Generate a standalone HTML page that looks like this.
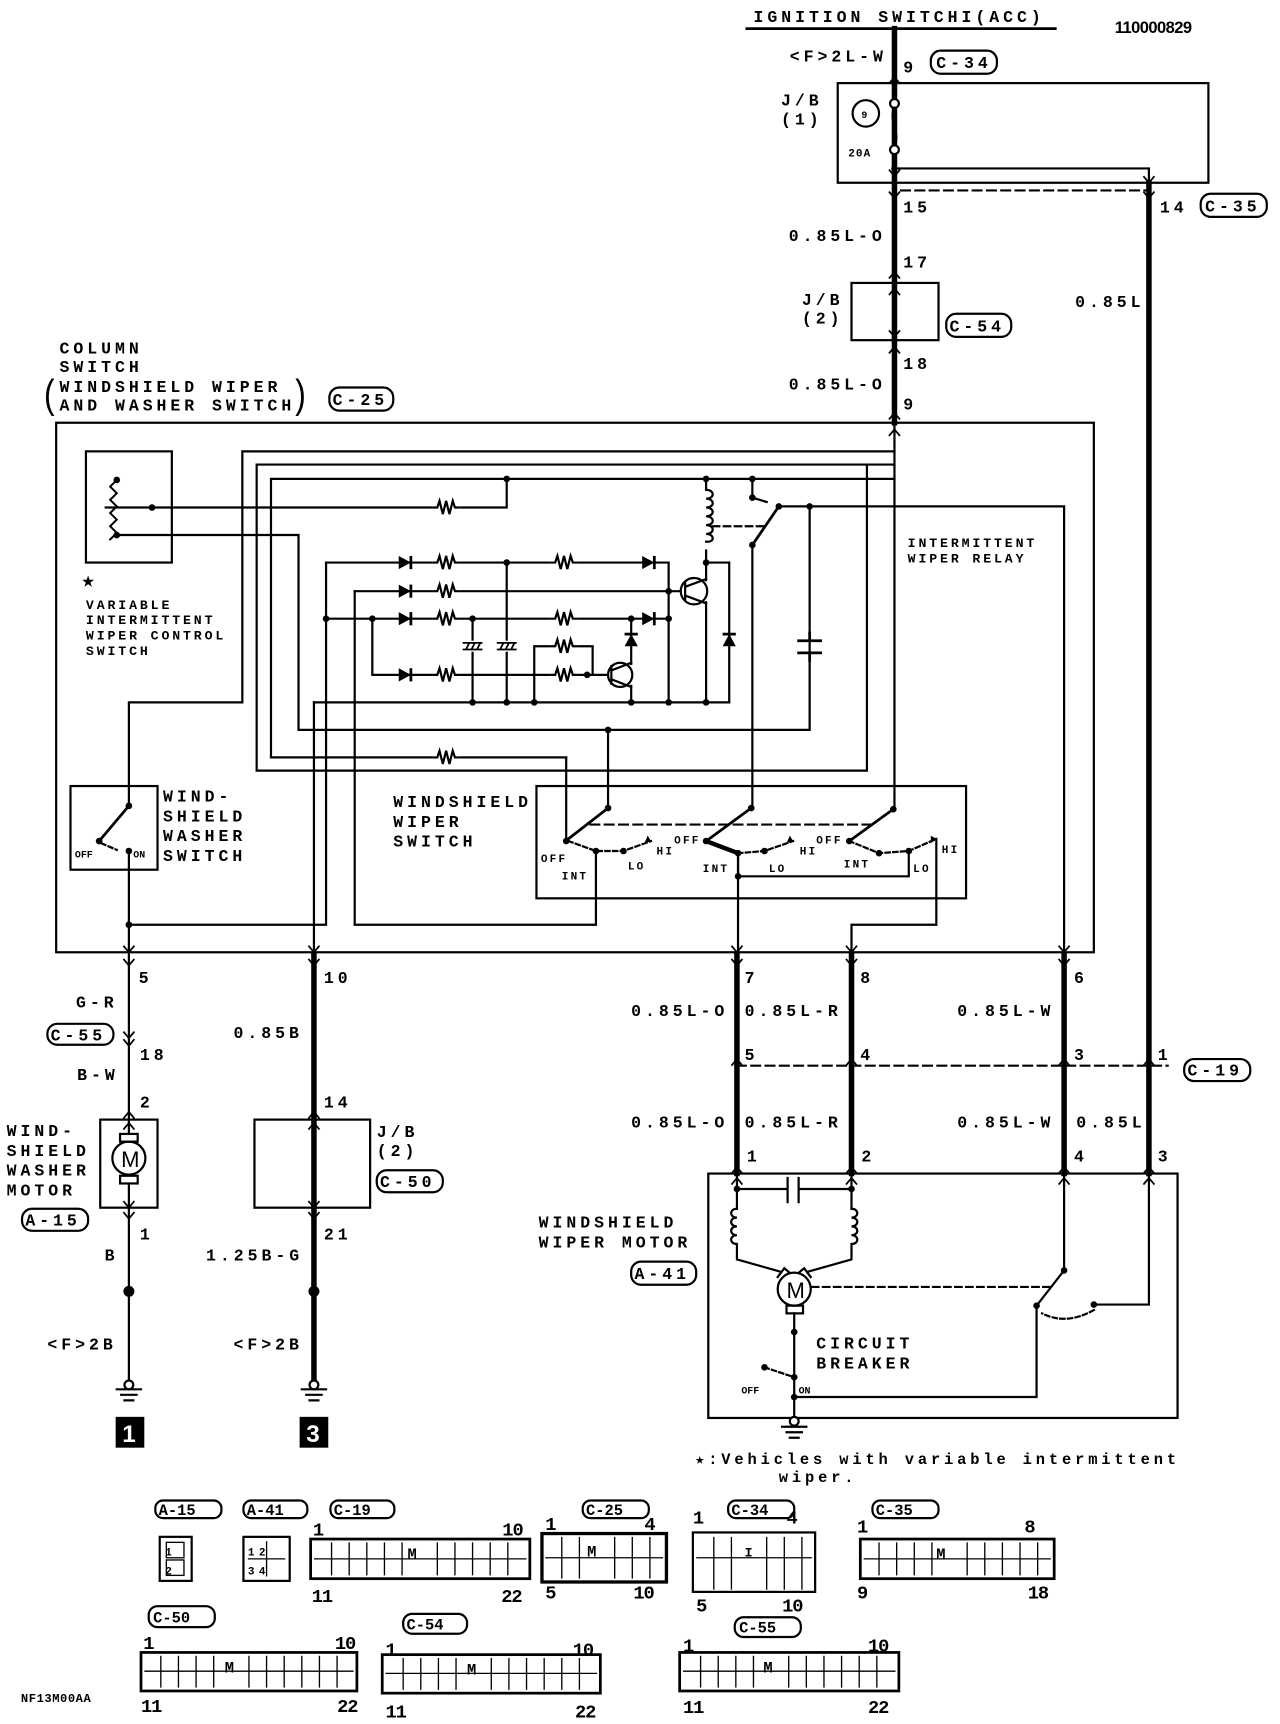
<!DOCTYPE html>
<html><head><meta charset="utf-8"><style>
html,body{margin:0;padding:0;background:#fff}
svg{display:block}
text{font-family:"Liberation Mono",monospace;font-weight:bold;fill:#000}
.t{font-size:15px;letter-spacing:3.6px}
.s{font-size:12px;letter-spacing:2.6px}
.n{font-family:"Liberation Sans",sans-serif;font-size:17px;letter-spacing:-1px}
</style></head><body>
<svg width="1280" height="1724" viewBox="0 0 1162 1566" preserveAspectRatio="none" xmlns="http://www.w3.org/2000/svg">
<defs>
<g id="res"><rect x="-12" y="-7" width="24" height="14" fill="#fff"/><path d="M-12 0 h4 l2 -6 l3 12 l3 -12 l3 12 l3 -12 l2 6 h4" fill="none" stroke="#000" stroke-width="2"/></g>
<g id="dio"><path d="M-6 -6 L5 0 L-6 6 Z" fill="#000"/><path d="M5 -6 V6" stroke="#000" stroke-width="2.5"/></g>
<g id="cap"><rect x="-9" y="-5" width="18" height="10" fill="#fff"/><path d="M-9 -3 H9 M-9 3 H9 M-6 3 L-3 -3 M-1 3 L2 -3 M4 3 L7 -3" stroke="#000" stroke-width="1.6"/></g>
<path id="dn" d="M-5 -6 L0 0 L5 -6" fill="none" stroke="#000" stroke-width="1.6"/>
<path id="up" d="M-5 6 L0 0 L5 6" fill="none" stroke="#000" stroke-width="1.6"/>
</defs>
<g fill="none" stroke="#000" stroke-linecap="square">
<path d="M678 26 H958" stroke-width="2.5"/>
<path d="M812 26 V384" stroke-width="5"/>
<rect x="760.5" y="75.5" width="336.5" height="90.5" stroke-width="2"/>
<circle cx="786" cy="103" r="12" stroke-width="2"/>
<circle cx="812" cy="94" r="4" fill="#fff" stroke-width="2"/>
<circle cx="812" cy="136" r="4" fill="#fff" stroke-width="2"/>
<path d="M812 98 C806 110 818 120 812 132" stroke-width="2"/>
<path d="M812 153 H1043 V1066" stroke-width="2"/>
<path d="M1043 166 V1066" stroke-width="5"/>
<path d="M818 173 H1040" stroke-width="2" stroke-dasharray="8 5"/>
<rect x="773" y="257" width="79" height="52" stroke-width="2"/>
<rect x="51" y="384" width="942" height="481" stroke-width="2"/>
<path d="M812 384 V734" stroke-width="2"/>
<path d="M812 410 H220 V638 H117 V732" stroke-width="2"/>
<path d="M812 422 H233 V700 H787 V422" stroke-width="2"/>
<path d="M812 435 H246 V688 H514 V764" stroke-width="2"/>
<rect x="78" y="410" width="78" height="101" stroke-width="2"/>
<path d="M106 436 l-6 6 l6 6 l-6 6 l6 6 l-6 6 l6 6 l-6 6 l6 6 l-6 6" stroke-width="1.8"/>
<path d="M96 461 H460 V435" stroke-width="2"/>
<path d="M106 486 H271 V663 H735 V460" stroke-width="2"/>
<path d="M707 460 H966 V867" stroke-width="2"/>
<path d="M641 435 V445 M641 500 V511 M641 511 H662 V638" stroke-width="2"/>
<path d="M641 445 c8 0 8 8 0 8 c8 0 8 8 0 8 c8 0 8 8 0 8 c8 0 8 8 0 8 c8 0 8 8 0 8 c8 0 8 8 0 7" stroke-width="2"/>
<path d="M683 435 V452 M683 452 L696 456" stroke-width="2"/>
<path d="M683 495 L707 460" stroke-width="2.5"/>
<path d="M647 478 H695" stroke-width="2" stroke-dasharray="6 4"/>
<path d="M683 495 V734" stroke-width="2"/>
<path d="M735 582 V575 M735 593 V600 M725 582 H745 M725 593 H745" stroke-width="2.5"/>
<path d="M296 511 H607 V638" stroke-width="2"/>
<path d="M322 537 H617" stroke-width="2"/>
<path d="M296 562 H607" stroke-width="2"/>
<path d="M338 562 V613 H550" stroke-width="2"/>
<path d="M485 638 V587 H538 V613" stroke-width="2"/>
<path d="M429 562 V638 M460 511 V638" stroke-width="2"/>
<path d="M285 638 H662" stroke-width="2"/>
<path d="M573 562 V603 M573 623 V638" stroke-width="2"/>
<circle cx="563" cy="613" r="11" stroke-width="2"/>
<path d="M555 605 V621 M555 609 L573 602 M555 617 L573 624" stroke-width="2"/>
<path d="M641 511 V527 M641 547 V638" stroke-width="2"/>
<circle cx="630" cy="537" r="12" stroke-width="2"/>
<path d="M622 529 V545 M622 533 L641 526 M622 541 L641 548" stroke-width="2"/>
<path d="M296 511 V840 H117 M322 537 V840 H541 V773 M285 638 V867" stroke-width="2"/>
<path d="M246 688 H514" stroke-width="2"/>
<path d="M552 663 V734" stroke-width="2"/>
<rect x="64" y="714" width="79" height="76" stroke-width="2"/>
<path d="M117 732 L90 764" stroke-width="2.5"/>
<path d="M92 766 L106 772" stroke-width="2" stroke-dasharray="4 3"/>
<path d="M117 773 V1254" stroke-width="2"/>
<rect x="487" y="714" width="390" height="102" stroke-width="2"/>
<path d="M536 749 H791" stroke-width="2" stroke-dasharray="8 5"/>
<path d="M552 734 L516 762 M682 734 L641 764 M811 735 L771 764" stroke-width="2.5"/>
<path d="M641 764 L670 775" stroke-width="4"/>
<path d="M516 764 L541 773 L566 773 L591 764 M670 775 L694 773 L720 764 M771 764 L798 775 L825 773 L850 762" stroke-width="2" stroke-dasharray="4 3"/>
<path d="M670 775 V796 H825 V773" stroke-width="2"/>
<path d="M670 775 V867 M850 762 V840 H773 V867" stroke-width="2"/>
<path d="M285 867 V1254" stroke-width="5"/>
<path d="M669 867 V1066 M773 867 V1066 M966 867 V1066" stroke-width="5"/>
<path d="M669 968 H1060" stroke-width="2" stroke-dasharray="8 5"/>
<rect x="91" y="1017" width="52" height="80" stroke-width="2"/>
<circle cx="117" cy="1052" r="15" stroke-width="2" fill="#fff"/>
<rect x="109" y="1030" width="16" height="7" stroke-width="2" fill="#fff"/>
<rect x="109" y="1068" width="16" height="7" stroke-width="2" fill="#fff"/>
<rect x="231" y="1017" width="105" height="80" stroke-width="2"/>
<circle cx="117" cy="1258" r="4" stroke-width="2" fill="#fff"/>
<path d="M106 1262 H128 M110 1267 H124 M113 1272 H121" stroke-width="2"/>
<circle cx="285" cy="1258" r="4" stroke-width="2" fill="#fff"/>
<path d="M274 1262 H296 M278 1267 H292 M281 1272 H289" stroke-width="2"/>
<rect x="643" y="1066" width="426" height="222" stroke-width="2"/>
<path d="M669 1066 V1098 M773 1066 V1098 M669 1080 H715 M725 1080 H773 M715 1070 V1092 M725 1070 V1092" stroke-width="2"/>
<path d="M669 1098 c-7 0 -7 8 0 8 c-7 0 -7 8 0 8 c-7 0 -7 8 0 8 c-7 0 -7 8 0 8 V1144 L708 1155" stroke-width="2"/>
<path d="M773 1098 c7 0 7 8 0 8 c7 0 7 8 0 8 c7 0 7 8 0 8 c7 0 7 8 0 8 V1144 L734 1155" stroke-width="2"/>
<path d="M706 1160 l6 -8 l6 5 M736 1160 l-6 -8 l-6 5" stroke-width="2"/>
<circle cx="721" cy="1171" r="15" stroke-width="2" fill="#fff"/>
<rect x="714" y="1186" width="15" height="7" stroke-width="2"/>
<path d="M721 1193 V1288" stroke-width="2"/>
<path d="M694 1242 L721 1251" stroke-width="2" stroke-dasharray="4 3"/>
<path d="M721 1269 H941 V1186" stroke-width="2"/>
<path d="M737 1169 H955" stroke-width="2" stroke-dasharray="6 4"/>
<path d="M966 1066 V1154 L941 1186" stroke-width="2"/>
<path d="M1043 1066 V1185 H993" stroke-width="2"/>
<path d="M993 1190 C975 1200 960 1200 946 1193" stroke-width="2" stroke-dasharray="4 3"/>
<circle cx="721" cy="1291" r="4" stroke-width="2" fill="#fff"/>
<path d="M710 1296 H732 M714 1301 H728 M717 1306 H725" stroke-width="2"/>
</g>
<g fill="#000">
<circle cx="812" cy="153" r="3"/>
<circle cx="460" cy="435" r="3"/><circle cx="641" cy="435" r="3"/><circle cx="683" cy="435" r="3"/>
<circle cx="138" cy="461" r="3"/><circle cx="106" cy="436" r="3"/><circle cx="106" cy="486" r="3"/>
<circle cx="683" cy="452" r="3"/><circle cx="683" cy="495" r="3"/><circle cx="707" cy="460" r="3"/><circle cx="735" cy="460" r="3"/>
<circle cx="460" cy="511" r="3"/><circle cx="641" cy="511" r="3"/>
<circle cx="607" cy="537" r="3"/><circle cx="296" cy="562" r="3"/><circle cx="338" cy="562" r="3"/>
<circle cx="429" cy="562" r="3"/><circle cx="573" cy="562" r="3"/><circle cx="607" cy="562" r="3"/>
<circle cx="533" cy="613" r="3"/>
<circle cx="429" cy="638" r="3"/><circle cx="460" cy="638" r="3"/><circle cx="485" cy="638" r="3"/><circle cx="573" cy="638" r="3"/><circle cx="607" cy="638" r="3"/><circle cx="641" cy="638" r="3"/>
<circle cx="552" cy="663" r="3"/><circle cx="117" cy="840" r="3"/>
<circle cx="117" cy="732" r="3"/><circle cx="90" cy="764" r="3"/><circle cx="117" cy="773" r="3"/>
<circle cx="552" cy="734" r="3"/><circle cx="514" cy="764" r="3"/><circle cx="541" cy="773" r="3"/><circle cx="566" cy="773" r="3"/>
<circle cx="682" cy="734" r="3"/><circle cx="641" cy="764" r="3"/><circle cx="670" cy="775" r="3"/><circle cx="694" cy="773" r="3"/><circle cx="670" cy="796" r="3"/>
<circle cx="811" cy="735" r="3"/><circle cx="771" cy="764" r="3"/><circle cx="798" cy="775" r="3"/><circle cx="825" cy="773" r="3"/>
<path d="M591 764 l-6 2 l3 -7 z M720 764 l-6 2 l3 -7 z M850 762 l-5 4 l0 -7 z"/>
<circle cx="117" cy="1173" r="5"/><circle cx="285" cy="1173" r="5"/>
<circle cx="669" cy="1080" r="3"/><circle cx="773" cy="1080" r="3"/>
<circle cx="721" cy="1210" r="3"/><circle cx="721" cy="1251" r="3"/><circle cx="721" cy="1269" r="3"/><circle cx="694" cy="1242" r="3"/>
<circle cx="966" cy="1154" r="3"/><circle cx="941" cy="1186" r="3"/><circle cx="993" cy="1185" r="3"/>
</g>
<use href="#res" x="405" y="461"/><use href="#res" x="405" y="688"/>
<use href="#dio" x="368" y="511"/><use href="#res" x="405" y="511"/><use href="#res" x="512" y="511"/><use href="#dio" x="589" y="511"/>
<use href="#dio" x="368" y="537"/><use href="#res" x="405" y="537"/>
<use href="#dio" x="368" y="562"/><use href="#res" x="405" y="562"/><use href="#res" x="512" y="562"/><use href="#dio" x="589" y="562"/>
<use href="#dio" x="368" y="613"/><use href="#res" x="405" y="613"/><use href="#res" x="512" y="613"/><use href="#res" x="512" y="587"/>
<use href="#cap" x="429" y="587"/><use href="#cap" x="460" y="587"/>
<use href="#dio" transform="translate(573 581) rotate(-90)"/>
<use href="#dio" transform="translate(662 581) rotate(-90)"/>
<g>
<use href="#up" x="812" y="70"/><use href="#dn" x="812" y="160"/><use href="#dn" x="812" y="180"/><use href="#dn" x="1043" y="166"/><use href="#dn" x="1043" y="180"/>
<use href="#up" x="812" y="247"/><use href="#up" x="812" y="262"/><use href="#dn" x="812" y="306"/><use href="#up" x="812" y="315"/>
<use href="#up" x="812" y="375"/><use href="#up" x="812" y="390"/>
<use href="#dn" x="117" y="865"/><use href="#dn" x="117" y="877"/><use href="#dn" x="285" y="865"/><use href="#dn" x="285" y="877"/>
<use href="#dn" x="669" y="865"/><use href="#dn" x="669" y="877"/><use href="#dn" x="773" y="865"/><use href="#dn" x="773" y="877"/><use href="#dn" x="966" y="865"/><use href="#dn" x="966" y="877"/>
<use href="#up" x="669" y="962"/><use href="#up" x="773" y="962"/><use href="#up" x="966" y="962"/><use href="#up" x="1043" y="962"/>
<use href="#up" x="669" y="1060"/><use href="#up" x="669" y="1070"/><use href="#up" x="773" y="1060"/><use href="#up" x="773" y="1070"/><use href="#up" x="966" y="1060"/><use href="#up" x="966" y="1070"/><use href="#up" x="1043" y="1060"/><use href="#up" x="1043" y="1070"/>
<use href="#dn" x="117" y="943"/><use href="#dn" x="117" y="950"/>
<use href="#up" x="117" y="1010"/><use href="#up" x="117" y="1020"/><use href="#dn" x="117" y="1097"/><use href="#dn" x="117" y="1107"/>
<use href="#up" x="285" y="1010"/><use href="#up" x="285" y="1020"/><use href="#dn" x="285" y="1097"/><use href="#dn" x="285" y="1107"/>
</g>
<g fill="none" stroke="#000" stroke-width="2">
<rect x="845" y="46" width="60" height="21" rx="9"/><rect x="1090" y="176" width="60" height="21" rx="9"/>
<rect x="859" y="285" width="59" height="21" rx="9"/><rect x="299" y="352" width="58" height="21" rx="9"/>
<rect x="43" y="930" width="60" height="19" rx="9"/><rect x="20" y="1098" width="60" height="20" rx="9"/>
<rect x="342" y="1063" width="60" height="20" rx="9"/><rect x="573" y="1146" width="59" height="21" rx="9"/>
<rect x="1075" y="962" width="60" height="20" rx="9"/>
<rect x="141" y="1363" width="60" height="16" rx="7"/><rect x="221" y="1363" width="58" height="16" rx="7"/><rect x="300" y="1363" width="58" height="16" rx="7"/>
<rect x="529" y="1363" width="60" height="16" rx="7"/><rect x="661" y="1363" width="60" height="16" rx="7"/><rect x="792" y="1363" width="60" height="16" rx="7"/>
<rect x="135" y="1459" width="60" height="19" rx="8"/><rect x="366" y="1466" width="58" height="18" rx="8"/><rect x="667" y="1469" width="60" height="18" rx="8"/>
</g>
<text class="t" x="684" y="20">IGNITION SWITCHI(ACC)</text>
<text x="1012" y="30" style="font-family:'Liberation Sans',sans-serif;font-size:15px;letter-spacing:-0.5px">110000829</text>
<text class="t" x="717" y="56">&lt;F&gt;2L-W</text>
<text class="t" x="820" y="66">9</text><text class="t" x="850" y="62">C-34</text>
<text class="t" x="709" y="96">J/B</text><text class="t" x="709" y="113">(1)</text>
<text style="font-size:9px" x="782" y="107">9</text>
<text style="font-size:10px;letter-spacing:1px" x="770" y="142">20A</text>
<text class="t" x="820" y="193">15</text><text class="t" x="1053" y="193">14</text><text class="t" x="1094" y="192">C-35</text>
<text class="t" x="716" y="219">0.85L-O</text><text class="t" x="820" y="243">17</text>
<text class="t" x="728" y="277">J/B</text><text class="t" x="728" y="294">(2)</text>
<text class="t" x="862" y="301">C-54</text><text class="t" x="976" y="279">0.85L</text>
<text class="t" x="820" y="335">18</text><text class="t" x="716" y="354">0.85L-O</text><text class="t" x="820" y="372">9</text>
<text class="t" x="54" y="321">COLUMN</text><text class="t" x="54" y="338">SWITCH</text>
<text class="t" x="54" y="356">WINDSHIELD WIPER</text><text class="t" x="54" y="373">AND WASHER SWITCH</text>
<text style="font-size:36px;font-weight:normal;font-family:'Liberation Sans',sans-serif" x="40" y="370" transform="scale(0.8 1) translate(10 0)">(</text>
<text style="font-size:36px;font-weight:normal;font-family:'Liberation Sans',sans-serif" x="335" y="370" transform="scale(0.8 1)">)</text>
<text class="t" x="302" y="368">C-25</text>
<text class="s" x="824" y="497">INTERMITTENT</text><text class="s" x="824" y="511">WIPER RELAY</text>
<text style="font-size:20px" x="74" y="533">★</text>
<text class="s" x="78" y="553">VARIABLE</text><text class="s" x="78" y="567">INTERMITTENT</text>
<text class="s" x="78" y="581">WIPER CONTROL</text><text class="s" x="78" y="595">SWITCH</text>
<text class="t" x="148" y="728">WIND-</text><text class="t" x="148" y="746">SHIELD</text><text class="t" x="148" y="764">WASHER</text><text class="t" x="148" y="782">SWITCH</text>
<text style="font-size:9px" x="68" y="779">OFF</text><text style="font-size:9px" x="121" y="779">ON</text>
<text class="t" x="357" y="733">WINDSHIELD</text><text class="t" x="357" y="751">WIPER</text><text class="t" x="357" y="769">SWITCH</text>
<g style="font-size:10px;letter-spacing:2px">
<text x="491" y="783">OFF</text><text x="510" y="799">INT</text><text x="570" y="790">LO</text><text x="596" y="776">HI</text>
<text x="612" y="766">OFF</text><text x="638" y="792">INT</text><text x="698" y="792">LO</text><text x="726" y="776">HI</text>
<text x="741" y="766">OFF</text><text x="766" y="788">INT</text><text x="829" y="792">LO</text><text x="855" y="775">HI</text>
</g>
<text class="t" x="126" y="893">5</text><text class="t" x="294" y="893">10</text>
<text class="t" x="676" y="893">7</text><text class="t" x="781" y="893">8</text><text class="t" x="975" y="893">6</text>
<text class="t" x="69" y="915">G-R</text><text class="t" x="46" y="945">C-55</text>
<text class="t" x="127" y="963">18</text><text class="t" x="70" y="981">B-W</text><text class="t" x="127" y="1006">2</text>
<text class="t" x="212" y="943">0.85B</text><text class="t" x="294" y="1006">14</text>
<text class="t" x="573" y="923">0.85L-O</text><text class="t" x="676" y="923">0.85L-R</text><text class="t" x="869" y="923">0.85L-W</text>
<text class="t" x="676" y="963">5</text><text class="t" x="781" y="963">4</text><text class="t" x="975" y="963">3</text><text class="t" x="1051" y="963">1</text>
<text class="t" x="1078" y="977">C-19</text>
<text class="t" x="573" y="1024">0.85L-O</text><text class="t" x="676" y="1024">0.85L-R</text><text class="t" x="869" y="1024">0.85L-W</text><text class="t" x="977" y="1024">0.85L</text>
<text class="t" x="678" y="1055">1</text><text class="t" x="782" y="1055">2</text><text class="t" x="975" y="1055">4</text><text class="t" x="1051" y="1055">3</text>
<text class="t" x="6" y="1032">WIND-</text><text class="t" x="6" y="1050">SHIELD</text><text class="t" x="6" y="1068">WASHER</text><text class="t" x="6" y="1086">MOTOR</text>
<text style="font-size:20px;font-family:'Liberation Sans',sans-serif;font-weight:normal" x="110" y="1060">M</text>
<text class="t" x="23" y="1113">A-15</text>
<text class="t" x="342" y="1033">J/B</text><text class="t" x="342" y="1050">(2)</text><text class="t" x="345" y="1078">C-50</text>
<text class="t" x="127" y="1126">1</text><text class="t" x="294" y="1126">21</text>
<text class="t" x="95" y="1145">B</text><text class="t" x="187" y="1145">1.25B-G</text>
<text class="t" x="43" y="1226">&lt;F&gt;2B</text><text class="t" x="212" y="1226">&lt;F&gt;2B</text>
<rect x="105" y="1287" width="26" height="28" fill="#000"/><rect x="272" y="1287" width="26" height="28" fill="#000"/>
<text x="111" y="1310" style="fill:#fff;font-family:'Liberation Sans',sans-serif;font-size:22px">1</text>
<text x="278" y="1310" style="fill:#fff;font-family:'Liberation Sans',sans-serif;font-size:22px">3</text>
<text class="t" x="489" y="1115">WINDSHIELD</text><text class="t" x="489" y="1133">WIPER MOTOR</text><text class="t" x="576" y="1162">A-41</text>
<text style="font-size:20px;font-family:'Liberation Sans',sans-serif;font-weight:normal" x="714" y="1179">M</text>
<text class="t" x="741" y="1225">CIRCUIT</text><text class="t" x="741" y="1243">BREAKER</text>
<text style="font-size:9px" x="673" y="1266">OFF</text><text style="font-size:9px" x="725" y="1266">ON</text>
<text class="t" x="631" y="1330" style="font-size:14px;letter-spacing:3.5px">★:Vehicles with variable intermittent</text>
<text class="t" x="707" y="1346" style="font-size:14px;letter-spacing:3.5px">wiper.</text>
<g style="font-size:14px;letter-spacing:0px">
<text x="144" y="1376">A-15</text><text x="224" y="1376">A-41</text><text x="303" y="1376">C-19</text>
<text x="532" y="1376">C-25</text><text x="664" y="1376">C-34</text><text x="795" y="1376">C-35</text>
<text x="139" y="1474">C-50</text><text x="369" y="1480">C-54</text><text x="671" y="1483">C-55</text>
</g>
<g fill="none" stroke="#000" stroke-width="2">
<rect x="145" y="1396" width="29" height="40"/><rect x="151" y="1401" width="16" height="14" stroke-width="1.2"/><rect x="151" y="1417" width="16" height="14" stroke-width="1.2"/>
<rect x="221" y="1396" width="42" height="40"/><path d="M242 1400 V1432 M225 1416 H259" stroke-width="1.2"/>
<rect x="282" y="1398" width="199" height="36" stroke-width="2.5"/>
<rect x="492" y="1393" width="113" height="44" stroke-width="3"/>
<rect x="629" y="1392" width="111" height="54" stroke-width="2"/>
<rect x="781" y="1398" width="176" height="36" stroke-width="2.5"/>
<rect x="128" y="1501" width="196" height="35" stroke-width="2.5"/>
<rect x="347" y="1503" width="198" height="35" stroke-width="2.5"/>
<rect x="617" y="1501" width="199" height="35" stroke-width="2.5"/>
</g>
<g stroke="#000" stroke-width="1.2" fill="none">
<path d="M285 1416 H478 M301 1401 V1431 M317 1401 V1431 M333 1401 V1431 M349 1401 V1431 M365 1401 V1431 M397 1401 V1431 M413 1401 V1431 M429 1401 V1431 M445 1401 V1431 M461 1401 V1431"/>
<path d="M495 1415 H602 M510 1396 V1434 M526 1396 V1434 M558 1396 V1434 M574 1396 V1434 M590 1396 V1434"/>
<path d="M632 1415 H737 M648 1396 V1444 M664 1396 V1444 M696 1396 V1444 M712 1396 V1444 M728 1396 V1444"/>
<path d="M784 1416 H954 M798 1401 V1431 M814 1401 V1431 M830 1401 V1431 M846 1401 V1431 M878 1401 V1431 M894 1401 V1431 M910 1401 V1431 M926 1401 V1431 M942 1401 V1431"/>
<path d="M131 1518 H321 M146 1504 V1533 M162 1504 V1533 M178 1504 V1533 M194 1504 V1533 M226 1504 V1533 M242 1504 V1533 M258 1504 V1533 M274 1504 V1533 M290 1504 V1533 M306 1504 V1533"/>
<path d="M350 1520 H542 M366 1506 V1535 M382 1506 V1535 M398 1506 V1535 M414 1506 V1535 M446 1506 V1535 M462 1506 V1535 M478 1506 V1535 M494 1506 V1535 M510 1506 V1535 M526 1506 V1535"/>
<path d="M620 1518 H813 M636 1504 V1533 M652 1504 V1533 M668 1504 V1533 M684 1504 V1533 M716 1504 V1533 M732 1504 V1533 M748 1504 V1533 M764 1504 V1533 M780 1504 V1533 M796 1504 V1533"/>
</g>
<g class="n">
<text x="150" y="1413" style="font-size:10px">1</text><text x="150" y="1430" style="font-size:10px">2</text>
<text x="225" y="1413" style="font-size:10px">1 2</text><text x="225" y="1430" style="font-size:10px">3 4</text>
<text x="370" y="1416" style="font-size:14px">M</text><text x="533" y="1414" style="font-size:14px">M</text><text x="676" y="1414" style="font-size:12px">I</text>
<text x="850" y="1416" style="font-size:14px">M</text><text x="204" y="1519" style="font-size:14px">M</text><text x="424" y="1521" style="font-size:14px">M</text><text x="693" y="1519" style="font-size:14px">M</text>
<text x="284" y="1395">1</text><text x="456" y="1395">10</text><text x="283" y="1455">11</text><text x="455" y="1455">22</text>
<text x="495" y="1390">1</text><text x="585" y="1390">4</text><text x="495" y="1452">5</text><text x="575" y="1452">10</text>
<text x="629" y="1384">1</text><text x="714" y="1384">4</text><text x="632" y="1464">5</text><text x="710" y="1464">10</text>
<text x="778" y="1392">1</text><text x="930" y="1392">8</text><text x="778" y="1452">9</text><text x="933" y="1452">18</text>
<text x="130" y="1498">1</text><text x="304" y="1498">10</text><text x="128" y="1555">11</text><text x="306" y="1555">22</text>
<text x="350" y="1504">1</text><text x="520" y="1504">10</text><text x="350" y="1560">11</text><text x="522" y="1560">22</text>
<text x="620" y="1500">1</text><text x="788" y="1500">10</text><text x="620" y="1556">11</text><text x="788" y="1556">22</text>
<text x="19" y="1546" style="font-size:11px;letter-spacing:0.5px">NF13M00AA</text>
</g>
</svg>
</body></html>
